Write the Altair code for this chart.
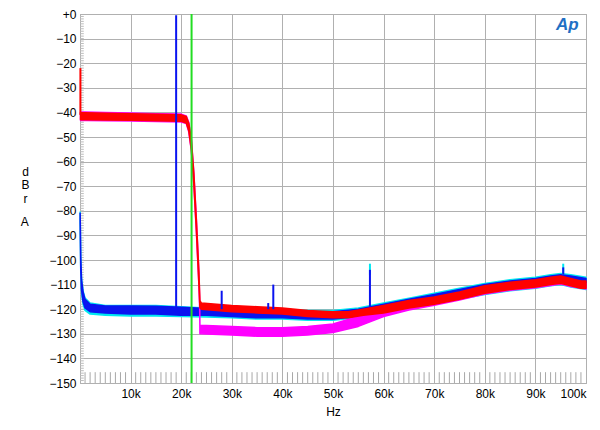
import altair as alt
import pandas as pd

# ---------------- data ----------------
# Red trace: noise band (Hz, low dB, high dB)
red_f  = [100, 1000, 5000, 10000, 15000, 20000, 21000, 21500, 22000, 22500, 23000, 23500, 23700,
          24000, 27000, 30000, 35000, 40000, 45000, 50000, 53000, 56000, 60000, 65000, 70000,
          75000, 80000, 85000, 90000, 93000, 95000, 97000, 99000, 100000]
red_lo = [-43, -43, -43.1, -43.2, -43.4, -43.6, -44.3, -47.5, -55, -69, -88, -110, -119.5,
          -120, -120.5, -121, -121.5, -122, -123, -123.5, -123.5, -122.5, -121.5, -119.5, -118,
          -116, -113.5, -112, -111, -110, -109.5, -110.5, -111.5, -111.5]
red_hi = [-40.1, -40.1, -40.3, -40.5, -40.8, -41, -41.7, -44.5, -51, -65, -84, -105, -116.5,
          -117.5, -118, -118.5, -119, -119.5, -120.5, -121, -121, -120, -118.5, -116.5, -115,
          -113, -110.5, -109, -108, -107, -106.5, -107.5, -108.5, -108.5]

# Magenta trace
mag_f  = [100, 1000, 5000, 10000, 15000, 20000, 21000, 21500, 22000, 22500, 23000, 23500, 23650,
          23700, 30000, 35000, 40000, 45000, 50000, 55000, 60000, 65000, 70000, 75000, 80000,
          85000, 90000, 95000, 97000, 100000]
mag_lo = [-43.3, -43.3, -43.4, -43.5, -43.7, -43.9, -44.5, -48, -55.5, -69.5, -88.5, -110, -120,
          -130, -130.5, -131, -131, -130.5, -129.5, -127, -123, -120.3, -118.4, -116.3, -113.8,
          -112.3, -111.3, -109.8, -110.8, -111.8]
mag_hi = [-39.8, -39.8, -40, -40.2, -40.5, -40.7, -41.4, -44, -50.5, -64.5, -83.5, -105, -116,
          -126.5, -127, -127.5, -127.5, -127, -126, -123, -119.5, -117.5, -116, -114, -111.5,
          -110, -109, -107.5, -108.5, -109.5]

# Blue trace
blu_f  = [30, 150, 300, 600, 1000, 2000, 5000, 10000, 15000, 20000, 25000, 30000, 35000, 40000,
          45000, 50000, 55000, 60000, 65000, 70000, 75000, 80000, 85000, 90000, 93000, 95000,
          97000, 100000]
blu_lo = [-84, -104, -112, -117, -119.5, -121, -121.5, -122, -122, -122.5, -122.5, -123, -123.5, -123.5,
          -124, -124, -123, -121, -119.5, -117.5, -115.5, -113.5, -112, -111, -110, -109.5,
          -110.5, -111.5]
blu_hi = [-81, -99, -108, -113, -116, -118, -118.7, -118.7, -118.8, -119.2, -119.7, -120, -120.5, -120.5,
          -121, -121, -120, -118, -116, -114, -112, -110, -108.5, -107.5, -106.5, -106,
          -106.5, -107.5]

# Cyan trace
cya_f  = [30, 150, 300, 600, 1000, 2000, 5000, 10000, 15000, 20000, 25000, 30000, 35000, 40000,
          45000, 50000, 55000, 60000, 65000, 70000, 75000, 80000, 85000, 90000, 93000, 95000,
          97000, 100000]
cya_lo = [-85, -105, -113, -118, -120.5, -122, -122.5, -122.8, -122.8, -123, -123.2, -123.5, -124, -124,
          -124.5, -124.5, -123.5, -121.5, -120, -118, -116, -114, -112.5, -111.5, -110.5, -110,
          -111, -112]
cya_hi = [-80.5, -98.5, -107.5, -112.5, -115.5, -117.5, -118.5, -118.5, -118.5, -119, -119.5, -119.5, -120, -120,
          -120.5, -120.5, -119.5, -117.5, -115.5, -113.5, -111.5, -109.5, -108, -107, -106, -105.5,
          -106, -107]

# Discrete spikes (Hz, bottom dB, top dB)
spike_series = ["cyan", "cyan", "blue", "blue", "blue", "blue", "blue", "blue", "red"]
spike_f      = [57300, 95500, 19000, 28000, 37200, 38200, 57300, 95500, 80]
spike_lo     = [-106, -106, -120, -120, -120, -120, -119, -106, -41]
spike_hi     = [-101.5, -101.5, -0.5, -112.5, -117.5, -110, -104, -103, -22]

marker_f = [22050]          # green vertical marker
x_ticks = list(range(0, 100001, 10000))
y_ticks = list(range(-150, 1, 10))
x_minor = [k * 1000 for k in range(1, 100) if k % 10 != 0]
y_minor = list(range(-149, 0))

COL = {"red": "#ff0000", "magenta": "#ff00ff", "blue": "#0a14f0", "cyan": "#00e8f0"}
GRID = "#b0b0b0"
FONT = "Liberation Sans"

xs = alt.Scale(domain=[0, 100000], nice=False, zero=False)
ys = alt.Scale(domain=[-150, 0], nice=False, zero=False)
xaxis = alt.Axis(values=x_ticks, labelExpr="datum.value == 0 ? '' : (datum.value/1000) + 'k'",
                 labelFlush=True, ticks=False, domain=False, grid=True, gridColor=GRID,
                 gridWidth=1, labelFont=FONT, labelFontSize=12, labelColor="black",
                 labelPadding=5, title="Hz", titleFont=FONT, titleFontSize=12,
                 titleFontWeight="normal", titleColor="black", titlePadding=7)
yaxis = alt.Axis(values=y_ticks, labelExpr="datum.value == 0 ? '+0' : datum.label",
                 ticks=False, domain=False, grid=True, gridColor=GRID, gridWidth=1,
                 labelFont=FONT, labelFontSize=12, labelColor="black", labelPadding=4,
                 title=["d", "B", "r"], titleAngle=0, titleFont=FONT,
                 titleFontSize=12, titleFontWeight="normal", titleColor="black",
                 titleLineHeight=13.5, titleX=-55, titleY=161, titleAlign="center",
                 titleBaseline="alphabetic")


def X(field):
    return alt.X(f"{field}:Q", scale=xs, axis=xaxis)


def Y(field):
    return alt.Y(f"{field}:Q", scale=ys, axis=yaxis)


layers = []

# minor ticks along the bottom and the left edge (inside the frame)
xm = pd.DataFrame({"f": x_minor, "a": -150, "b": -145.6})
layers.append(alt.Chart(xm).mark_rule(color="#a8a8a8", strokeWidth=1).encode(
    x=X("f"), y=Y("a"), y2="b"))
ym = pd.DataFrame({"v": y_minor, "a": 0, "b": 750})
layers.append(alt.Chart(ym).mark_rule(color="#bcbcbc", strokeWidth=1).encode(
    y=Y("v"), x=X("a"), x2="b"))


def band(fs, lo, hi, color):
    df = pd.DataFrame({"f": fs, "lo": lo, "hi": hi})
    return alt.Chart(df).mark_area(color=color, opacity=1, stroke=color, strokeWidth=1.5,
                                   strokeJoin="round").encode(
        x=X("f"),
        y=alt.Y("lo:Q", scale=ys, axis=yaxis, stack=None),
        y2="hi")


layers.append(band(cya_f, cya_lo, cya_hi, COL["cyan"]))
layers.append(band(blu_f, blu_lo, blu_hi, COL["blue"]))
layers.append(band(mag_f, mag_lo, mag_hi, COL["magenta"]))
layers.append(band(red_f, red_lo, red_hi, COL["red"]))

sp = pd.DataFrame({"s": spike_series, "f": spike_f, "lo": spike_lo, "hi": spike_hi})
for s in ["cyan", "blue", "red"]:
    layers.append(alt.Chart(sp[sp.s == s]).mark_rule(color=COL[s], strokeWidth=2).encode(
        x=X("f"), y=Y("lo"), y2="hi"))

gm = pd.DataFrame({"f": marker_f, "a": -150, "b": 0})
layers.append(alt.Chart(gm).mark_rule(color="#22dd22", strokeWidth=2).encode(
    x=X("f"), y=Y("a"), y2="b"))

logo = pd.DataFrame({"f": [96300], "y": [-4.5], "t": ["Ap"]})
layers.append(alt.Chart(logo).mark_text(font=FONT, fontSize=17, fontStyle="italic",
                                        fontWeight="bold", color="#1f6fc4").encode(
    x=X("f"), y=Y("y"), text="t:N"))

# last line of the stacked y-axis title ("A"), after a blank line
unit = pd.DataFrame({"f": [-10900], "y": [-84.5], "t": ["A"]})
layers.append(alt.Chart(unit).mark_text(font=FONT, fontSize=12, color="black",
                                        clip=False).encode(
    x=X("f"), y=Y("y"), text="t:N"))

chart = alt.layer(*layers).properties(
    width=506, height=369,
    autosize=alt.AutoSizeParams(type="none"),
    padding={"left": 72, "top": 6, "right": 6, "bottom": 40},
    background="white",
).configure_view(stroke="#a0a0a0", strokeWidth=1)

chart.save("out.html", embed_options={"renderer": "svg", "actions": False})
